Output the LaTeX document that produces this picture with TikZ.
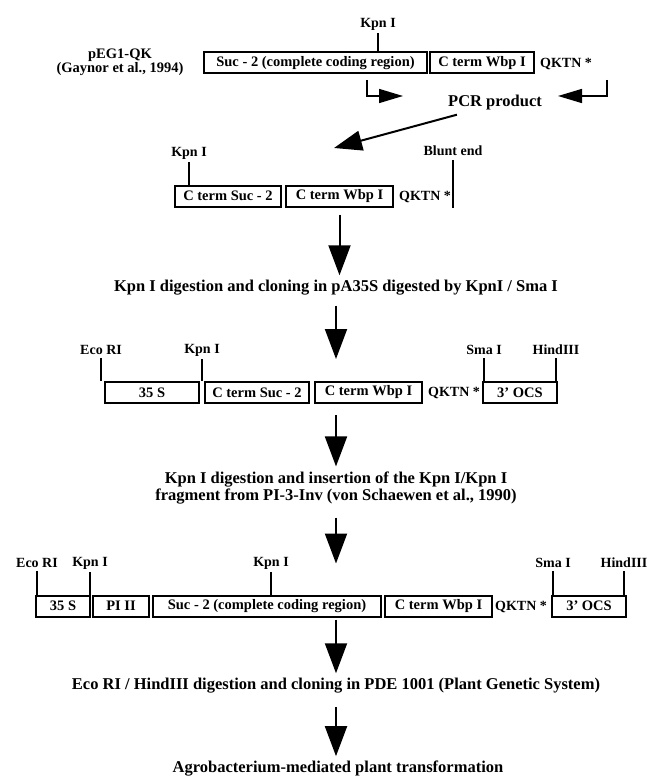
\documentclass[tikz,border=0pt]{standalone}
\usepackage{fontspec}
\setmainfont{Liberation Serif}
\usetikzlibrary{arrows.meta}
\tikzset{
  gene/.style={draw, line width=2pt, minimum height=21pt, inner sep=0pt,
    font=\bfseries\fontsize{14.5}{14.5}\selectfont},
  site/.style={font=\bfseries\fontsize{14}{13}\selectfont, inner sep=1pt},
  cut/.style={line width=1.6pt},
  stepnote/.style={font=\bfseries\fontsize{16.5}{17.5}\selectfont, align=center, inner sep=1pt},
  flow/.style={line width=2pt, -{Triangle[length=30pt,width=22pt]}},
  primer/.style={line width=1.5pt, -{Triangle[length=24pt,width=14pt]}},
}
\begin{document}
\begin{tikzpicture}[x=1pt, y=-1pt]
    \useasboundingbox (0,0) rectangle (647,778);

    % pEG1-QK
    \node[site, align=center, font=\bfseries\fontsize{14.5}{13}\selectfont] (peg) at (120, 62) {pEG1-QK\\(Gaynor et al., 1994)};
    \node[gene, minimum width=223pt] (sucA) at (315.5, 63) {Suc - 2 (complete coding region)};
    \node[gene, minimum width=104pt] (wbpA) at (482, 63) {C term Wbp I};
    \node[site] (qktnA) at (566, 64) {QKTN *};
    \node[site] (kpnA) at (378, 24) {Kpn I};
    \draw[cut] ([yshift=-2pt]kpnA.south) -- (kpnA.south |- sucA.north);

    % primers
    \coordinate (fwd) at (367, 80);
    \coordinate (fwdtip) at (403, 96);
    \coordinate (rev) at (607, 80);
    \coordinate (revtip) at (558, 96);
    \draw[primer] (fwd) |- (fwdtip);
    \draw[primer] (rev) |- (revtip);
    \node[stepnote] (pcr) at (495, 103) {PCR product};
    \coordinate (pcrtip) at (334, 148);
    \draw[flow, -{Triangle[length=28pt,width=20pt]}] (pcr.south west) ++(10,3) -- (pcrtip);

    % PCR fragment
    \node[gene, minimum width=106pt] (sucB) at (228, 196) {C term Suc - 2};
    \node[gene, minimum width=107pt] (wbpB) at (339.5, 196) {C term Wbp I};
    \node[site] (qktnB) at (425, 197) {QKTN *};
    \node[site] (kpnB) at (189, 153) {Kpn I};
    \draw[cut] ([yshift=-2pt]kpnB.south) -- (kpnB.south |- sucB.north);
    \node[site] (blunt) at (453, 151) {Blunt end};
    \draw[cut] ([yshift=-3pt]blunt.south) -- ++(0,48);

    \node[stepnote] (clone) at (336, 288) {Kpn I digestion and cloning in pA35S digested by KpnI / Sma I};
    \draw[flow, shorten <=7pt, shorten >=4pt] (wbpB.south) -- (wbpB.south |- clone.north);

    % pA35S construct
    \node[gene, minimum width=94pt] (prC) at (152, 392.5) {35 S};
    \node[gene, minimum width=104pt] (sucC) at (257, 392.5) {C term Suc - 2};
    \node[gene, minimum width=107pt] (wbpC) at (368.5, 392.5) {C term Wbp I};
    \node[site] (qktnC) at (454, 393) {QKTN *};
    \node[gene, minimum width=74pt] (ocsC) at (520, 392.5) {3' OCS};
    \node[site] (ecoC) at (101, 350) {Eco RI};
    \node[site] (kpnC) at (202, 350) {Kpn I};
    \node[site] (smaC) at (484, 350) {Sma I};
    \node[site] (hindC) at (556, 350) {HindIII};
    \foreach \s/\b in {ecoC/prC, kpnC/prC, smaC/ocsC, hindC/ocsC}
      \draw[cut] ([yshift=-2pt]\s.south) -- (\s.south |- \b.north);
    \draw[flow, shorten <=9pt, shorten >=22pt] (clone.south) -- (clone.south |- wbpC.north);

    \node[stepnote] (insert) at (336, 488) {Kpn I digestion and insertion of the Kpn I/Kpn I\\fragment from PI-3-Inv (von Schaewen et al., 1990)};
    \draw[flow, shorten <=11pt, shorten >=4pt] (clone.south |- wbpC.south) -- (clone.south |- insert.north);

    % final construct
    \node[gene, minimum width=54pt] (prD) at (63, 606) {35 S};
    \node[gene, minimum width=56pt] (piD) at (121, 606) {PI II};
    \node[gene, minimum width=228pt] (sucD) at (267, 606) {Suc - 2 (complete coding region)};
    \node[gene, minimum width=107pt] (wbpD) at (438.5, 606) {C term Wbp I};
    \node[site] (qktnD) at (521, 607) {QKTN *};
    \node[gene, minimum width=74pt] (ocsD) at (589, 606) {3' OCS};
    \node[site] (ecoD) at (37, 563) {Eco RI};
    \node[site] (kpnD) at (90, 563) {Kpn I};
    \node[site] (kpnE) at (271, 563) {Kpn I};
    \node[site] (smaD) at (553, 563) {Sma I};
    \node[site] (hindD) at (624, 563) {HindIII};
    \foreach \s/\b in {ecoD/prD, kpnD/piD, kpnE/sucD, smaD/ocsD, hindD/ocsD}
      \draw[cut] ([yshift=-2pt]\s.south) -- (\s.south |- \b.north);
    \draw[flow, shorten <=12pt, shorten >=31pt] (insert.south) -- (insert.south |- sucD.north);

    \node[stepnote] (binary) at (336, 686) {Eco RI / HindIII digestion and cloning in PDE 1001 (Plant Genetic System)};
    \draw[flow, shorten <=2pt, shorten >=4pt] (binary.north |- sucD.south) -- (binary.north);

    \node[stepnote] (agro) at (338, 769) {Agrobacterium-mediated plant transformation};
    \draw[flow, shorten <=12pt, shorten >=4pt] (binary.south) -- (binary.south |- agro.north);
\end{tikzpicture}
\end{document}
